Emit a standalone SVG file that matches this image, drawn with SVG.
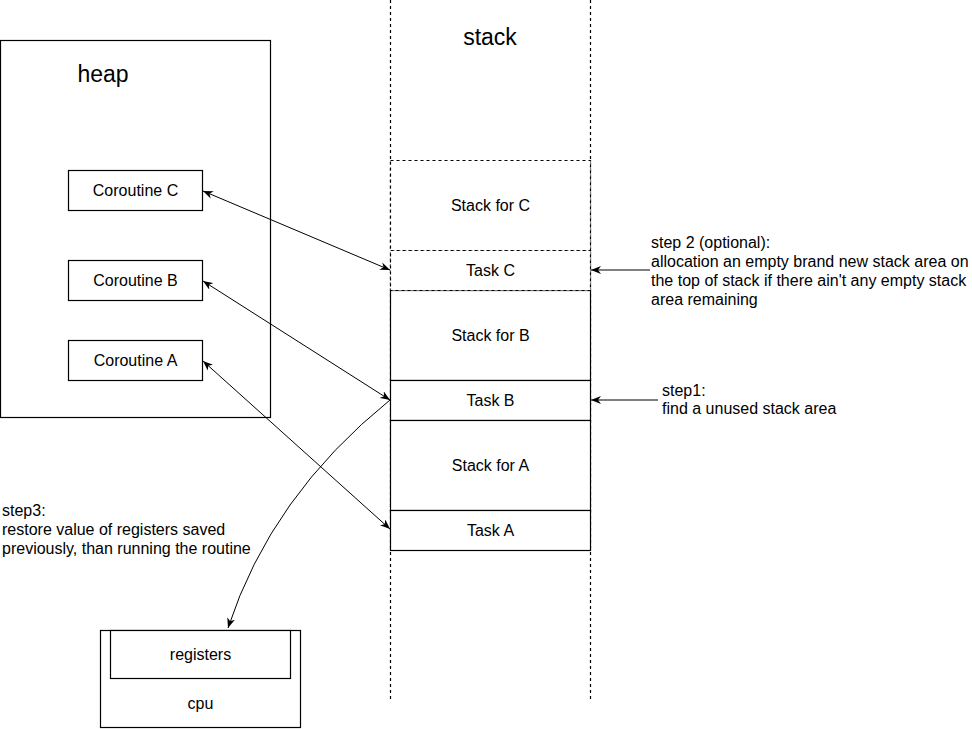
<svg xmlns="http://www.w3.org/2000/svg" width="972" height="729" viewBox="0 0 972 729">
<style>
.box{fill:#fff;stroke:#000;stroke-width:1.2}
.dbox{fill:#fff;stroke:#000;stroke-width:1.2;stroke-dasharray:3 3}
.col{fill:none;stroke:#000;stroke-width:1.2;stroke-dasharray:3 3}
.t{font-family:"Liberation Sans",Arial,sans-serif;font-size:16px;fill:#000}
.c{text-anchor:middle}
.big{font-size:23px}
.edge{fill:none;stroke:#000;stroke-width:1}
</style>
<defs>
<marker id="arr" viewBox="0 0 10 8" refX="10" refY="4" markerWidth="10" markerHeight="8" markerUnits="userSpaceOnUse" orient="auto-start-reverse">
<path d="M10,4 L0,0 L3,4 L0,8 Z" fill="#000"/>
</marker>
</defs>
<rect width="972" height="729" fill="#fff"/>
<g id="stack-column">
<line class="col" x1="390.5" y1="0" x2="390.5" y2="700"/>
<line class="col" x1="590.5" y1="0" x2="590.5" y2="700"/>
<text class="t c big" x="490" y="45">stack</text>
</g>
<g id="heap">
<rect class="box" x="0.5" y="40.5" width="270" height="377"/>
<text class="t c big" x="103" y="82">heap</text>
</g>
<g id="coroutine-c">
<rect class="box" x="68.5" y="170.5" width="134" height="40"/>
<text class="t c" x="135.5" y="196">Coroutine C</text>
</g>
<g id="coroutine-b">
<rect class="box" x="68.5" y="260.5" width="134" height="40"/>
<text class="t c" x="135.5" y="286">Coroutine B</text>
</g>
<g id="coroutine-a">
<rect class="box" x="68.5" y="340.5" width="134" height="40"/>
<text class="t c" x="135.5" y="366">Coroutine A</text>
</g>
<g id="stack-for-b">
<rect class="box" x="390.5" y="290.5" width="200" height="90"/>
<text class="t c" x="490.5" y="341">Stack for B</text>
</g>
<g id="task-b">
<rect class="box" x="390.5" y="380.5" width="200" height="40"/>
<text class="t c" x="490.5" y="406">Task B</text>
</g>
<g id="stack-for-a">
<rect class="box" x="390.5" y="420.5" width="200" height="90"/>
<text class="t c" x="490.5" y="471">Stack for A</text>
</g>
<g id="task-a">
<rect class="box" x="390.5" y="510.5" width="200" height="40"/>
<text class="t c" x="490.5" y="536">Task A</text>
</g>
<g id="stack-for-c">
<rect class="dbox" x="390.5" y="160.5" width="200" height="90"/>
<text class="t c" x="490.5" y="211">Stack for C</text>
</g>
<g id="task-c">
<rect class="dbox" x="390.5" y="250.5" width="200" height="40"/>
<text class="t c" x="490.5" y="276">Task C</text>
</g>
<g id="cpu">
<rect class="box" x="100.5" y="630.5" width="200" height="97"/>
<text class="t c" x="200.5" y="709">cpu</text>
</g>
<g id="registers">
<rect class="box" x="110.5" y="630.5" width="180" height="48"/>
<text class="t c" x="200.5" y="660">registers</text>
</g>
<g id="step2-note">
<text class="t" x="651" y="248">step 2 (optional):</text>
<text class="t" x="651" y="267">allocation an empty brand new stack area on</text>
<text class="t" x="651" y="286">the top of stack if there ain't any empty stack</text>
<text class="t" x="651" y="305">area remaining</text>
</g>
<g id="step1-note">
<text class="t" x="662" y="396">step1:</text>
<text class="t" x="662" y="414">find a unused stack area</text>
</g>
<g id="step3-note">
<text class="t" x="2" y="516">step3:</text>
<text class="t" x="2" y="535">restore value of registers saved</text>
<text class="t" x="2" y="554">previously, than running the routine</text>
</g>
<g id="connectors">
<line class="edge" x1="203" y1="191" x2="390" y2="270" marker-start="url(#arr)" marker-end="url(#arr)"/>
<line class="edge" x1="203" y1="281" x2="390" y2="400" marker-start="url(#arr)" marker-end="url(#arr)"/>
<line class="edge" x1="203" y1="361" x2="390" y2="529" marker-start="url(#arr)" marker-end="url(#arr)"/>
<path class="edge" d="M390,400 Q271,496 228,628" marker-end="url(#arr)"/>
<line class="edge" x1="650" y1="270" x2="591" y2="270" marker-end="url(#arr)"/>
<line class="edge" x1="658" y1="400" x2="591" y2="400" marker-end="url(#arr)"/>
</g>
</svg>
